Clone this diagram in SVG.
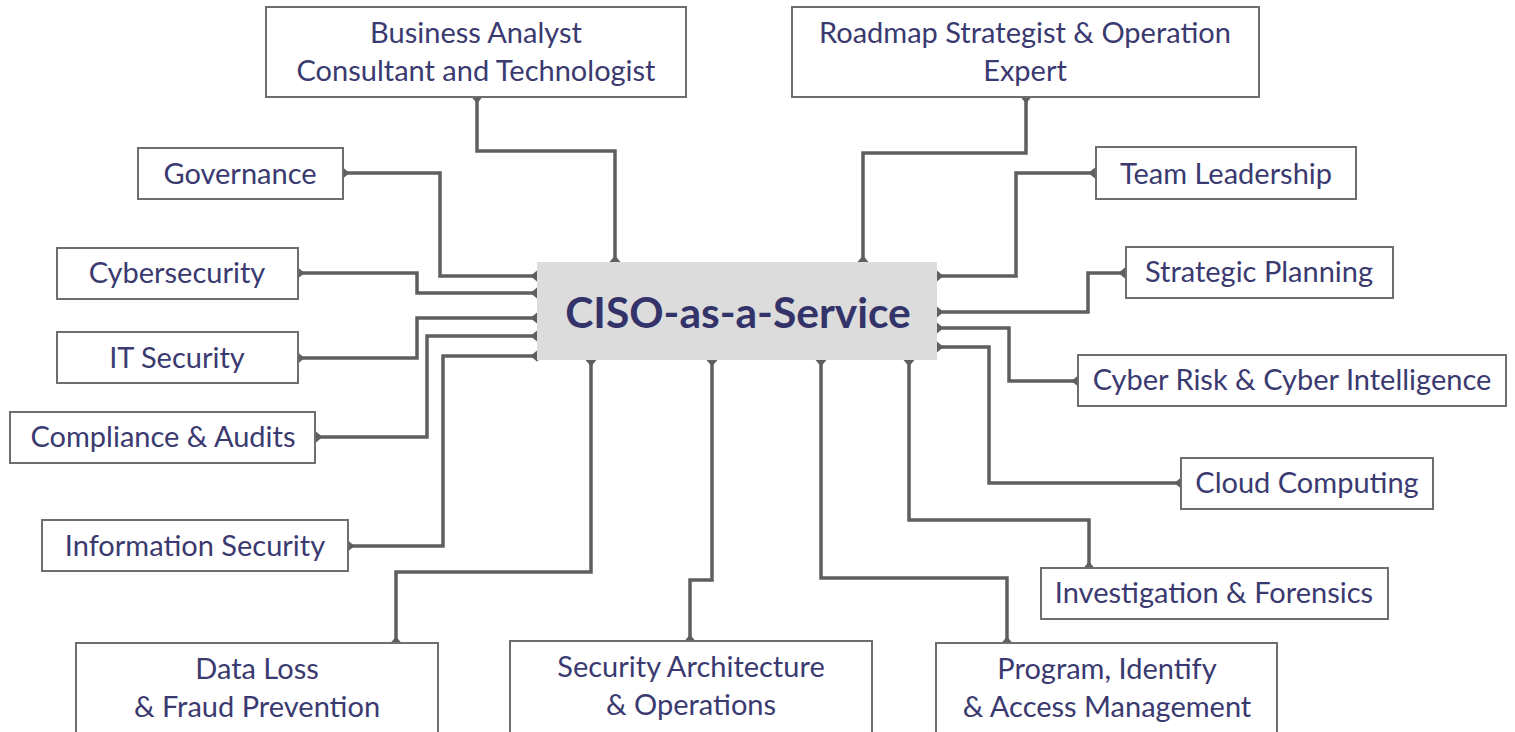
<svg xmlns="http://www.w3.org/2000/svg" width="1515" height="732" viewBox="0 0 1515 732">
<style>
.box{fill:#fff;stroke:#6e6e6e;stroke-width:2}
.lbl{font-family:Lato,"Open Sans","Liberation Sans",sans-serif;font-size:29px;fill:#3a3a70;text-anchor:middle}
.ctr{font-family:Lato,"Noto Sans","Liberation Sans",sans-serif;font-size:42.5px;font-weight:bold;fill:#33336a;text-anchor:middle}
.con{fill:none;stroke:#5f5f5f;stroke-width:3.5;stroke-linejoin:miter;marker-start:url(#d);marker-end:url(#d)}
</style>
<defs>
<marker id="d" markerUnits="userSpaceOnUse" markerWidth="13" markerHeight="12" refX="6.5" refY="6" orient="auto">
<path d="M0,6 L6.5,0.5 L13,6 L6.5,11.5 Z" fill="#5f5f5f"/>
</marker>
</defs>
<rect width="1515" height="732" fill="#fff"/>
<g id="connectors">
<path class="con" d="M343,173 H440 V276 H537"/>
<path class="con" d="M298,273 H417 V293 H537"/>
<path class="con" d="M298,358 H417 V318 H537"/>
<path class="con" d="M316,437 H427 V336 H537"/>
<path class="con" d="M348,546 H443 V356 H537"/>
<path class="con" d="M477,97 V151 H615 V262"/>
<path class="con" d="M1026,97 V153 H863 V262"/>
<path class="con" d="M1095,173 H1016 V276 H937"/>
<path class="con" d="M1125,273 H1088 V312 H937"/>
<path class="con" d="M1078,381 H1009 V328 H937"/>
<path class="con" d="M1181,483 H989 V347 H937"/>
<path class="con" d="M1089,568 V520 H909 V360"/>
<path class="con" d="M1007,643 V578 H821 V360"/>
<path class="con" d="M690,641 V580 H712 V360"/>
<path class="con" d="M396,643 V572 H591 V360"/>
</g>
<g id="center">
<rect x="537" y="262" width="400" height="98" fill="#dcdcdc"/>
<text class="ctr" x="738" y="328">CISO-as-a-Service</text>
</g>
<g id="n-business">
<rect class="box" x="266" y="7" width="420" height="90"/>
<text class="lbl" x="476" y="43">Business Analyst</text>
<text class="lbl" x="476" y="81">Consultant and Technologist</text>
</g>
<g id="n-roadmap">
<rect class="box" x="792" y="7" width="467" height="90"/>
<text class="lbl" x="1025" y="43">Roadmap Strategist &amp; Operation</text>
<text class="lbl" x="1025" y="81">Expert</text>
</g>
<g id="n-governance">
<rect class="box" x="138" y="148" width="205" height="51"/>
<text class="lbl" x="240" y="184">Governance</text>
</g>
<g id="n-team">
<rect class="box" x="1096" y="147" width="260" height="52"/>
<text class="lbl" x="1226" y="184">Team Leadership</text>
</g>
<g id="n-cyber">
<rect class="box" x="57" y="248" width="241" height="51"/>
<text class="lbl" x="177" y="283">Cybersecurity</text>
</g>
<g id="n-strategic">
<rect class="box" x="1126" y="247" width="267" height="51"/>
<text class="lbl" x="1259" y="282">Strategic Planning</text>
</g>
<g id="n-it">
<rect class="box" x="57" y="332" width="241" height="51"/>
<text class="lbl" x="177" y="368">IT Security</text>
</g>
<g id="n-cyberrisk">
<rect class="box" x="1078" y="355" width="428" height="51"/>
<text class="lbl" x="1292" y="390">Cyber Risk &amp; Cyber Intelligence</text>
</g>
<g id="n-compliance">
<rect class="box" x="10" y="412" width="305" height="51"/>
<text class="lbl" x="163" y="447">Compliance &amp; Audits</text>
</g>
<g id="n-cloud">
<rect class="box" x="1181" y="458" width="252" height="51"/>
<text class="lbl" x="1307" y="493">Cloud Computing</text>
</g>
<g id="n-infosec">
<rect class="box" x="42" y="520" width="306" height="51"/>
<text class="lbl" x="195" y="556">Information Security</text>
</g>
<g id="n-investigation">
<rect class="box" x="1041" y="568" width="347" height="51"/>
<text class="lbl" x="1214" y="603">Investigation &amp; Forensics</text>
</g>
<g id="n-dataloss">
<rect class="box" x="76" y="643" width="362" height="100"/>
<text class="lbl" x="257" y="679">Data Loss</text>
<text class="lbl" x="257" y="717">&amp; Fraud Prevention</text>
</g>
<g id="n-secarch">
<rect class="box" x="510" y="641" width="362" height="100"/>
<text class="lbl" x="691" y="677">Security Architecture</text>
<text class="lbl" x="691" y="715">&amp; Operations</text>
</g>
<g id="n-program">
<rect class="box" x="936" y="643" width="341" height="100"/>
<text class="lbl" x="1107" y="679">Program, Identify</text>
<text class="lbl" x="1107" y="717">&amp; Access Management</text>
</g>
</svg>
